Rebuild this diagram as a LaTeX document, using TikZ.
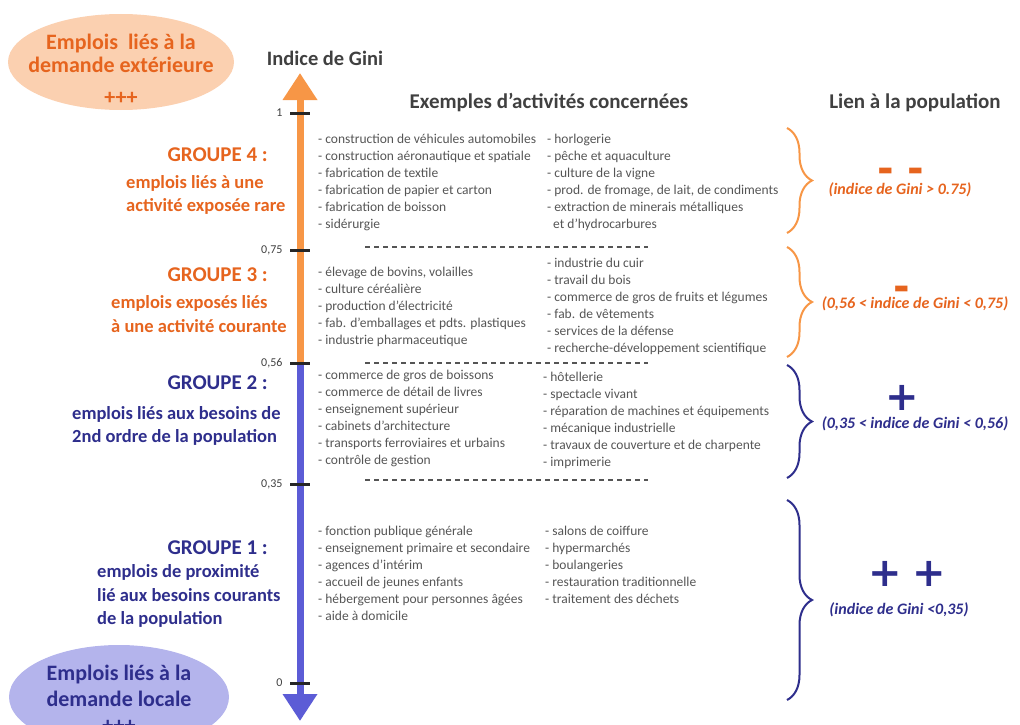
\documentclass[tikz,border=0pt]{standalone}
\usepackage{fontspec}
\setmainfont{Carlito}
\newfontfamily\signfont{DejaVu Sans}
\usetikzlibrary{arrows.meta,shapes.geometric,decorations.pathreplacing}

\definecolor{orangeline}{RGB}{247,150,70}
\definecolor{orangetext}{RGB}{230,100,30}
\definecolor{peach}{RGB}{251,208,176}
\definecolor{blueline}{RGB}{92,92,214}
\definecolor{navytext}{RGB}{46,46,140}
\definecolor{lavender}{RGB}{180,180,236}
\definecolor{itemgray}{RGB}{85,85,85}
\definecolor{headgray}{RGB}{64,64,64}

\def\axisx{300}
\def\colA{318}
\def\colB{547}
\def\rowsep{17}

\begin{document}
\begin{tikzpicture}[x=1pt,y=-1pt,
    giniaxis/.style={line width=7pt, -{Triangle[length=27pt,width=33pt]}},
    gtick/.style={line width=3pt, black!85},
    ticklabel/.style={anchor=east, font=\fontsize{12}{12}\selectfont, text=headgray},
    colhead/.style={font=\fontsize{21}{21}\selectfont\bfseries, text=headgray},
    item/.style={anchor=west, inner sep=0pt, text=itemgray,
      font=\fontsize{13.5}{15}\selectfont, text height=1.5ex, text depth=.25ex},
    grouptitle/.style={anchor=east, inner sep=0pt, font=\fontsize{21}{21}\selectfont\bfseries},
    groupsub/.style={anchor=west, inner sep=0pt, align=left,
      font=\fontsize{18.5}{23.5}\selectfont\bfseries},
    rowsepline/.style={dash pattern=on 5pt off 4pt, line width=1.5pt, itemgray},
    bracket/.style={decorate, decoration={brace, amplitude=25pt}, line width=2pt},
    demand/.style={ellipse, inner sep=0pt},
    demandtext/.style={align=center, inner sep=0pt, font=\fontsize{22}{23}\selectfont\bfseries},
    sign/.style={font=\fontsize{40}{40}\signfont\bfseries},
    ginirange/.style={font=\fontsize{16}{16}\selectfont\bfseries\itshape}
  ]
  \useasboundingbox (0,0) rectangle (1020,725);

  % demand bubbles
  \node[demand, fill=peach, minimum width=226pt, minimum height=96pt] (outside) at (121,62) {};
  \node[demandtext, text=orangetext] (outside text) at (121,69)
    {Emplois\ \ liés à la\\demande extérieure\\[9pt]+++};
  \node[demand, fill=lavender, minimum width=220pt, minimum height=104pt] (local) at (119,697) {};
  \node[demandtext, text=navytext] (local text) at (119,699)
    {Emplois liés à la\\[3pt]demande locale\\[3pt]+++};

  % Gini scale
  \coordinate (gini top) at (\axisx,73);
  \coordinate (gini mid) at (\axisx,363);
  \coordinate (gini bottom) at (\axisx,721);
  \draw[giniaxis, orangeline] (gini mid) -- (gini top);
  \draw[giniaxis, blueline] (gini mid) -- (gini bottom);
  \foreach \y/\lab [count=\k] in {113/1, 250/{0,75}, 363/{0,56}, 484/{0,35}, 683/0} {
    \draw[gtick] (\axisx-10,\y) -- (\axisx+10,\y);
    \node[ticklabel] (value\k) at (\axisx-14,\y) {\lab};
  }

  % headings
  \node[colhead, font=\fontsize{20.5}{20.5}\selectfont\bfseries] (gini title) at (325,58) {Indice de Gini};
  \node[colhead] (examples) at (549,103) {Exemples d'activités concernées};
  \node[colhead] (link) at (915,103) {Lien à la population};

  % groups
  \node[grouptitle, text=orangetext] (g4) at (268,155) {GROUPE 4 :};
  \node[groupsub, text=orangetext] (g4 sub) at (126,195)
    {emplois liés à une\\activité exposée rare};
  \node[grouptitle, text=orangetext] (g3) at (268,275) {GROUPE 3 :};
  \node[groupsub, text=orangetext] (g3 sub) at (111,314)
    {emplois exposés liés\\à une activité courante};
  \node[grouptitle, text=navytext] (g2) at (268,383) {GROUPE 2 :};
  \node[groupsub, text=navytext] (g2 sub) at (72,426)
    {emplois liés aux besoins de\\2nd ordre de la population};
  \node[grouptitle, text=navytext] (g1) at (268,548) {GROUPE 1 :};
  \node[groupsub, text=navytext] (g1 sub) at (97,596)
    {emplois de proximité\\lié aux besoins courants\\de la population};

  % activities, group 4
  \foreach \t [count=\i from 0] in {construction de véhicules automobiles,
      construction aéronautique et spatiale, fabrication de textile,
      fabrication de papier et carton, fabrication de boisson, sidérurgie}
    \node[item] (four a\i) at (\colA,141+\i*\rowsep) {- \t};
  \foreach \t [count=\i from 0] in {horlogerie, pêche et aquaculture,
      culture de la vigne, {prod. de fromage, de lait, de condiments},
      extraction de minerais métalliques}
    \node[item] (four b\i) at (\colB,141+\i*\rowsep) {- \t};
  \node[item] (four b5) at (\colB+6,226) {et d'hydrocarbures};

  % activities, group 3
  \foreach \t [count=\i from 0] in {{élevage de bovins, volailles},
      culture céréalière, production d'électricité,
      fab. d'emballages et pdts. plastiques, industrie pharmaceutique}
    \node[item] (three a\i) at (\colA,274+\i*\rowsep) {- \t};
  \foreach \t [count=\i from 0] in {industrie du cuir, travail du bois,
      commerce de gros de fruits et légumes, fab. de vêtements,
      services de la défense, recherche-développement scientifique}
    \node[item] (three b\i) at (\colB,265+\i*\rowsep) {- \t};

  % activities, group 2
  \foreach \t [count=\i from 0] in {commerce de gros de boissons,
      commerce de détail de livres, enseignement supérieur,
      cabinets d'architecture, transports ferroviaires et urbains,
      contrôle de gestion}
    \node[item] (two a\i) at (\colA,377+\i*\rowsep) {- \t};
  \foreach \t [count=\i from 0] in {hôtellerie, spectacle vivant,
      réparation de machines et équipements, mécanique industrielle,
      travaux de couverture et de charpente, imprimerie}
    \node[item] (two b\i) at (\colB-4,379+\i*\rowsep) {- \t};

  % activities, group 1
  \foreach \t [count=\i from 0] in {fonction publique générale,
      enseignement primaire et secondaire, agences d'intérim,
      accueil de jeunes enfants, hébergement pour personnes âgées,
      aide à domicile}
    \node[item] (one a\i) at (\colA,533+\i*\rowsep) {- \t};
  \foreach \t [count=\i from 0] in {salons de coiffure, hypermarchés,
      boulangeries, restauration traditionnelle, traitement des déchets}
    \node[item] (one b\i) at (\colB-2,533+\i*\rowsep) {- \t};

  \foreach \y in {247,363,480}
    \draw[rowsepline] (365,\y) -- (648,\y);

  % link to the population
  \draw[bracket, orangeline] (787,128) -- (787,233);
  \draw[bracket, orangeline] (787,247) -- (787,357);
  \draw[bracket, navytext] (787,365) -- (787,478);
  \draw[bracket, navytext] (787,500) -- (787,700);

  \node[sign, text=orangetext] (s4) at (901,175) {-\hspace{13pt}-};
  \node[ginirange, text=orangetext] (r4) at (900,190) {(indice de Gini > 0.75)};
  \node[sign, text=orangetext] (s3) at (902,293) {-};
  \node[ginirange, text=orangetext] (r3) at (915,304) {(0,56 < indice de Gini < 0,75)};
  \node[sign, text=navytext] (s2) at (902,398) {+};
  \node[ginirange, text=navytext] (r2) at (915,424) {(0,35 < indice de Gini < 0,56)};
  \node[sign, text=navytext] (s1) at (907,574) {+\hspace{10pt}+};
  \node[ginirange, text=navytext] (r1) at (899,610) {(indice de Gini <0,35)};
\end{tikzpicture}
\end{document}
